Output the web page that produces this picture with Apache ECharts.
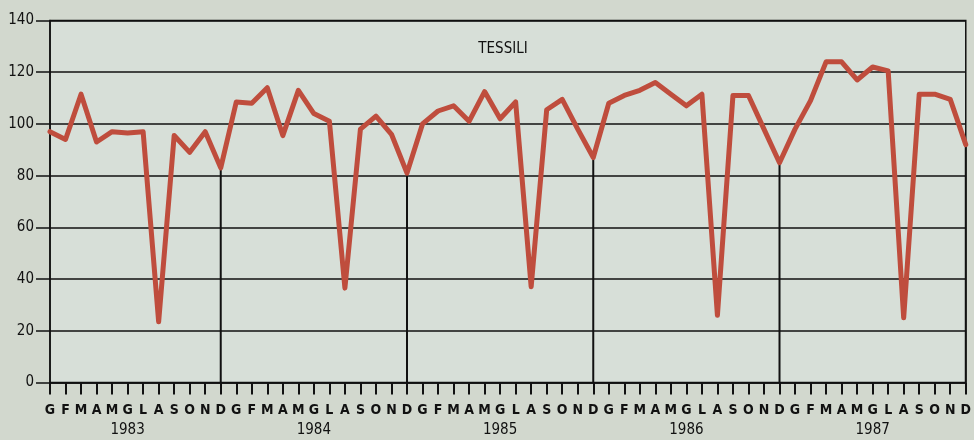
<!DOCTYPE html>
<html>
<head>
<meta charset="utf-8">
<title>TESSILI</title>
<script src="https://cdn.jsdelivr.net/npm/echarts@6/dist/echarts.min.js"></script>
<style>
  html, body { margin: 0; padding: 0; background: #d2d8ce; }
  #chart { width: 974px; height: 440px; }
</style>
</head>
<body>
<div id="chart"></div>
<script>
// Monthly index, textile sector, 1983-1987
const years = ['1983', '1984', '1985', '1986', '1987'];
const months = ['G', 'F', 'M', 'A', 'M', 'G', 'L', 'A', 'S', 'O', 'N', 'D'];
const v1983 = [97, 94, 111.5, 93, 97, 96.5, 97, 23.5, 95.5, 89, 97, 83];
const v1984 = [108.5, 108, 114, 95.5, 113, 104, 101, 36.5, 98, 103, 96, 81];
const v1985 = [100, 105, 107, 101, 112.5, 102, 108.5, 37, 105.5, 109.5, 98, 87];
const v1986 = [108, 111, 113, 116, 111.5, 107, 111.5, 26, 111, 111, 98, 85];
const v1987 = [98, 109, 124, 124, 117, 122, 120.5, 25, 111.5, 111.5, 109.5, 92];
const yTicks = [0, 20, 40, 60, 80, 100, 120, 140];

const values = [].concat(v1983, v1984, v1985, v1986, v1987);
const categories = [];
years.forEach(function (y) {
  months.forEach(function (m) { categories.push(m); });
});
// December drop lines
const decDrops = values.map(function (v, i) { return i % 12 === 11 ? v : '-'; });

const chart = echarts.init(document.getElementById('chart'), null, { renderer: 'canvas' });
const condensed = '"DejaVu Sans Condensed", "Liberation Sans Narrow", sans-serif';

chart.setOption({
  backgroundColor: '#d2d8ce',
  animation: false,
  title: {
    text: 'TESSILI',
    left: 498,
    top: 37,
    textAlign: 'center',
    textStyle: { fontFamily: condensed, fontSize: 15, fontWeight: 'normal', color: '#111' }
  },
  grid: {
    left: 50, right: 6, top: 20.5, bottom: 57.5,
    show: true,
    backgroundColor: '#d7dfd8',
    borderColor: '#111',
    borderWidth: 1.5
  },
  xAxis: [{
    type: 'category',
    data: categories,
    boundaryGap: false,
    axisLine: { lineStyle: { color: '#111', width: 1.5 } },
    axisTick: { interval: 0, length: 12, lineStyle: { color: '#111', width: 2 } },
    axisLabel: {
      interval: 0, margin: 21, color: '#111',
      fontFamily: condensed, fontSize: 14, fontWeight: 'bold'
    },
    splitLine: { show: false }
  }, {
    type: 'category',
    data: categories,
    position: 'bottom',
    boundaryGap: false,
    axisLine: { show: false },
    axisTick: { show: false },
    axisLabel: {
      interval: 0, margin: 40, color: '#111',
      fontFamily: condensed, fontSize: 15,
      formatter: function (value, index) {
        return index % 12 === 5 ? years[Math.floor(index / 12)] : '';
      }
    },
    splitLine: { show: false }
  }],
  yAxis: {
    type: 'value',
    min: yTicks[0],
    max: yTicks[yTicks.length - 1],
    interval: 20,
    axisLine: { show: true, lineStyle: { color: '#111', width: 1.5 } },
    axisTick: { show: true, length: 14, lineStyle: { color: '#111', width: 1.5 } },
    axisLabel: { margin: 16, color: '#111', fontFamily: condensed, fontSize: 15 },
    splitLine: { lineStyle: { color: '#111', width: 1.5 } }
  },
  series: [{
    type: 'bar',
    data: decDrops,
    barWidth: 2,
    itemStyle: { color: '#111' },
    silent: true,
    z: 1
  }, {
    type: 'line',
    data: values,
    symbol: 'none',
    lineStyle: { color: '#bf4d3d', width: 5, join: 'round', cap: 'round' },
    z: 3
  }]
});
</script>
</body>
</html>
